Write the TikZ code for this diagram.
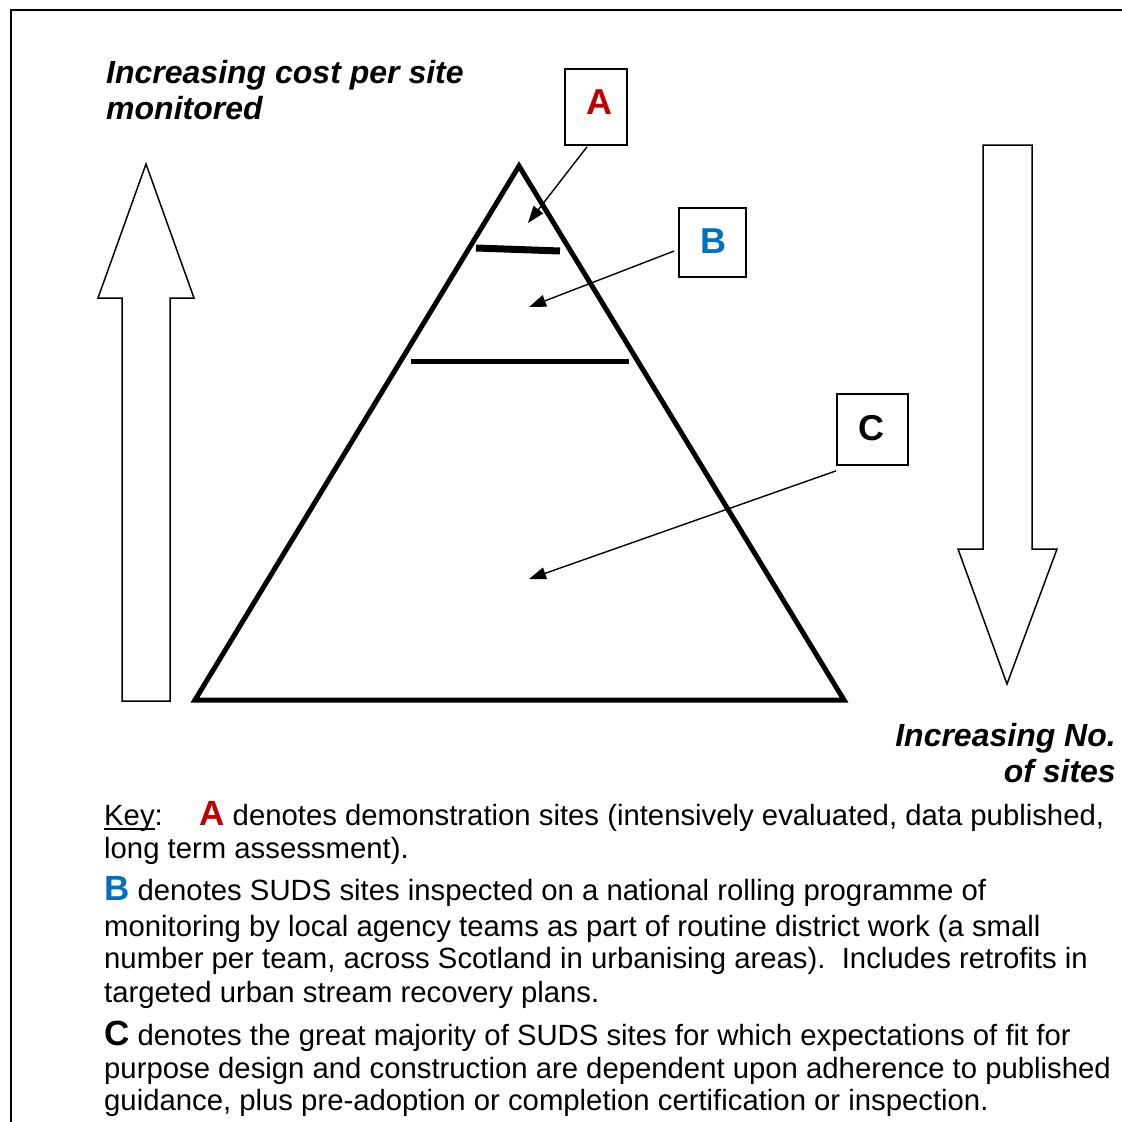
\documentclass[tikz,border=0pt]{standalone}
\usepackage{fontspec}
\setmainfont{Liberation Sans}
\usetikzlibrary{arrows.meta,calc}
\definecolor{keyred}{RGB}{192,0,0}
\definecolor{keyblue}{RGB}{0,112,192}
% underline that sits just under the baseline, crossing descenders
\newcommand\keyul[1]{\setbox0\hbox{#1}\rlap{\rule[-4.5pt]{\wd0}{1.8pt}}\box0}
\newcommand\keyletter[2]{{\color{#1}\fontsize{35}{35}\selectfont\bfseries #2}}
\begin{document}
\begin{tikzpicture}[x=1pt,y=-1pt,
  frame/.style={line width=2pt},
  pyramid/.style={line width=5pt, line join=miter},
  tierbar/.style={line width=#1},
  bigarrow/.style={line width=1.5pt, line join=miter},
  tagbox/.style={draw, line width=1.6pt, inner sep=0pt},
  tagletter/.style={font=\fontsize{36}{36}\selectfont\bfseries, inner sep=0pt},
  pointer/.style={line width=1.4pt, -{Triangle[length=17pt,width=12pt]}},
  axislabel/.style={font=\fontsize{32}{36}\selectfont\bfseries\itshape, inner sep=0pt},
  keyline/.style={font=\fontsize{29.3}{34}\selectfont, inner sep=0pt, anchor=base west},
]
\useasboundingbox (0,0) rectangle (1122,1122);

% frame (top and left edges)
\draw[frame] (1124,9.5) -- (10.5,9.5) -- (10.5,1124);

% axis captions
\node[axislabel, anchor=base west] (costA) at (106,83) {Increasing cost per site};
\node[axislabel, anchor=base west] (costB) at (106,119) {monitored};
\node[axislabel, anchor=base east] (numA) at (1116,746) {Increasing No.};
\node[axislabel, anchor=base east] (numB) at (1116,782) {of sites};

% hollow block arrows
\draw[bigarrow] (146,164) -- (194,298) -- (170,298) -- (170,701) -- (122,701)
  -- (122,298) -- (98,298) -- cycle;
\draw[bigarrow] (983,145) -- (1032,145) -- (1032,549) -- (1057,549) -- (1007,684)
  -- (958,549) -- (983,549) -- cycle;

% pyramid and tier dividers
\draw[pyramid] (519,166) -- (844,700) -- (195,700) -- cycle;
\draw[tierbar=7pt] (476,248) -- (560,251);
\draw[tierbar=5pt] (411,361) -- (629,361);

% tier tags
\node[tagbox, minimum width=62, minimum height=76] (boxA) at (596,107) {};
\node[tagletter, text=keyred] (letA) at (599,102) {A};
\node[tagbox, minimum width=67, minimum height=69] (boxB) at (712.5,242.5) {};
\node[tagletter, text=keyblue] (letB) at (713,241) {B};
\node[tagbox, minimum width=71, minimum height=71] (boxC) at (872.5,429.5) {};
\node[tagletter] (letC) at (871,428.5) {C};

% pointer targets inside the tiers
\coordinate (tipA) at (528,223);
\coordinate (tipB) at (529,307);
\coordinate (tipC) at (529,579);
\draw[pointer] ($(boxA.south)+(-9,1)$) -- (tipA);
\draw[pointer] ($(boxB.west)+(-4,8.5)$) -- (tipB);
\draw[pointer] ($(boxC.south west)+(0,5)$) -- (tipC);

% key
\node[keyline] (k1) at (104,825) {\keyul{Key}:\hspace{36.5pt}\keyletter{keyred}{A} denotes demonstration sites (intensively evaluated, data published,};
\node[keyline] (k2) at (104,858) {long term assessment).};
\node[keyline] (k3) at (104,900) {\keyletter{keyblue}{B} denotes SUDS sites inspected on a national rolling programme of};
\node[keyline] (k4) at (104,936) {monitoring by local agency teams as part of routine district work (a small};
\node[keyline] (k5) at (104,968) {number per team, across Scotland in urbanising areas).\ \ Includes retrofits in};
\node[keyline] (k6) at (104,1002) {targeted urban stream recovery plans.};
\node[keyline] (k7) at (104,1045) {\keyletter{black}{C} denotes the great majority of SUDS sites for which expectations of fit for};
\node[keyline] (k8) at (104,1078) {purpose design and construction are dependent upon adherence to published};
\node[keyline] (k9) at (104,1110) {guidance, plus pre-adoption or completion certification or inspection.};
\end{tikzpicture}
\end{document}
